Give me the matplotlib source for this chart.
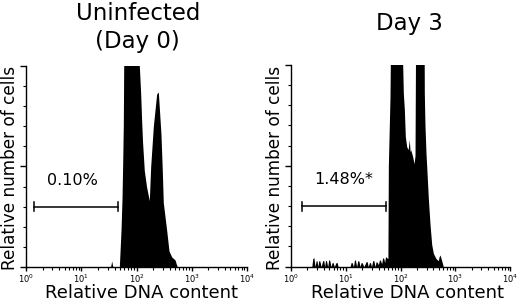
import matplotlib
matplotlib.use("Agg")
import matplotlib.pyplot as plt
from matplotlib.ticker import LogLocator, MultipleLocator, NullFormatter

plt.rcParams["font.family"] = ["DejaVu Sans"]

# -----------------------------
# DATA
# -----------------------------

# Day 0 histogram: DNA content (channel) and relative count (values > 1 are off scale)
day0_dna = [33.9, 35.6, 37.2, 48.9, 52.4, 54.7, 56.2, 57.7, 59.4, 109.6,
            112.5, 119.1, 124.2, 128.8, 138.4, 151.7, 170.6, 180.7, 201.8,
            231.7, 248.3, 277.3, 293.1, 305.5, 352.4, 387.3, 433.5, 497.7, 547.0]
day0_cells = [0.0, 0.03, 0.0, 0.0, 0.18, 0.34, 0.51, 0.70, 1.2, 1.2,
              1.0, 0.86, 0.72, 0.62, 0.48, 0.40, 0.33, 0.50, 0.70,
              0.86, 0.87, 0.66, 0.48, 0.32, 0.18, 0.08, 0.05, 0.035, 0.0]

# Day 3 histogram
day3_dna = [2.4, 2.5, 2.62, 2.75, 2.88, 3.0, 3.09, 3.22, 3.36, 3.55, 3.8, 3.97,
            4.12, 4.27, 4.45, 4.68, 4.9, 5.12, 5.37, 5.65, 5.9, 6.17, 6.65,
            6.98, 7.24, 12.0, 12.5, 13.1, 13.8, 14.5, 15.1, 15.8, 16.6, 17.4,
            18.2, 19.1, 19.9, 21.4, 23.6, 24.6, 25.7, 27.1, 28.3, 29.5, 31.2,
            32.6, 34.3, 35.9, 37.5, 39.4, 41.4, 43.2, 45.2, 47.4, 49.6, 51.3,
            53.3, 55.7, 58.9, 60.0, 64.3, 66.2, 108.4, 109.6, 112.7, 117.5,
            122.5, 129.7, 138.0, 144.9, 149.6, 153.5, 167.1, 176.6, 184.1,
            189.2, 269.2, 272.3, 279.9, 292.4, 300.6, 322.1, 345.9, 371.5,
            398.1, 444.6, 489.8, 508.0, 526.0, 545.0, 564.9, 605.3]
day3_cells = [0.0, 0.04, 0.045, 0.0, 0.03, 0.028, 0.0, 0.03, 0.028, 0.0, 0.03,
              0.03, 0.0, 0.03, 0.03, 0.0, 0.035, 0.03, 0.0, 0.02, 0.02, 0.0,
              0.02, 0.02, 0.0, 0.0, 0.02, 0.02, 0.0, 0.035, 0.03, 0.0, 0.03,
              0.028, 0.0, 0.02, 0.02, 0.0, 0.025, 0.025, 0.0, 0.02, 0.02, 0.0,
              0.03, 0.03, 0.0, 0.025, 0.022, 0.01, 0.035, 0.03, 0.015, 0.045,
              0.04, 0.02, 0.05, 0.045, 0.04, 0.5, 0.84, 1.2, 1.2, 1.0, 0.86,
              0.78, 0.645, 0.595, 0.58, 0.63, 0.57, 0.58, 0.545, 0.51, 0.55,
              1.2, 1.2, 0.86, 0.70, 0.56, 0.50, 0.34, 0.21, 0.11, 0.066, 0.04,
              0.03, 0.05, 0.058, 0.045, 0.03, 0.0]

# Marker gates (start, end) and their labels
day0_gate = [1.40, 46.9]
day3_gate = [1.57, 54.3]
gate_y = 0.30
day0_label = "0.10%"
day3_label = "1.48%*"
label_x = [6.8, 9.3]
label_y = 0.43

titles = ["Uninfected\n(Day 0)", "Day 3"]

# -----------------------------
# FIGURE
# -----------------------------

fig = plt.figure(figsize=(5.2, 3.02), dpi=100)
ax0 = fig.add_axes([0.050, 0.116, 0.425, 0.666])
ax1 = fig.add_axes([0.5596, 0.117, 0.4212, 0.668])


def style_axis(ax):
    ax.set_xscale("log")
    ax.set_xlim(1, 1e4)
    ax.set_ylim(0, 1)
    for side in ["top", "right"]:
        ax.spines[side].set_visible(False)
    for side in ["left", "bottom"]:
        ax.spines[side].set_linewidth(1.0)
    ax.xaxis.set_major_locator(LogLocator(base=10, numticks=10))
    ax.xaxis.set_minor_locator(LogLocator(base=10, subs=range(2, 10), numticks=10))
    ax.xaxis.set_minor_formatter(NullFormatter())
    ax.yaxis.set_major_locator(MultipleLocator(0.5))
    ax.yaxis.set_minor_locator(MultipleLocator(0.1))
    ax.set_yticklabels([])
    ax.tick_params(axis="x", which="major", direction="out", length=3, width=1,
                   labelsize=6, pad=1)
    ax.tick_params(axis="x", which="minor", direction="out", length=2, width=0.8)
    ax.tick_params(axis="y", which="major", direction="out", length=4, width=1)
    ax.tick_params(axis="y", which="minor", direction="out", length=2.5, width=0.8)


def draw_gate(ax, gate, label, lx):
    ax.plot(gate, [gate_y, gate_y], color="black", lw=1.1)
    for g in gate:
        ax.plot([g, g], [gate_y - 0.022, gate_y + 0.022], color="black", lw=1.1)
    ax.text(lx, label_y, label, ha="center", va="center", fontsize=11.5)


# Day 0
ax0.fill_between(day0_dna, day0_cells, 0, color="black", lw=0)
style_axis(ax0)
draw_gate(ax0, day0_gate, day0_label, label_x[0])

# Day 3
ax1.fill_between(day3_dna, day3_cells, 0, color="black", lw=0)
style_axis(ax1)
draw_gate(ax1, day3_gate, day3_label, label_x[1])

# Titles and axis labels
fig.text(0.265, 0.935, "Uninfected", ha="center", va="baseline", fontsize=16.5)
fig.text(0.265, 0.840, "(Day 0)", ha="center", va="baseline", fontsize=16.5)
fig.text(0.7865, 0.900, titles[1], ha="center", va="baseline", fontsize=16.5)

for xc in [0.273, 0.783]:
    fig.text(xc, 0.013, "Relative DNA content", ha="center", va="baseline",
             fontsize=13)
for xc in [0.0190, 0.529]:
    fig.text(xc, 0.4454, "Relative number of cells", ha="center", va="center",
             rotation=90, fontsize=12.2)

plt.savefig("out.png", dpi=100)
plt.close()
